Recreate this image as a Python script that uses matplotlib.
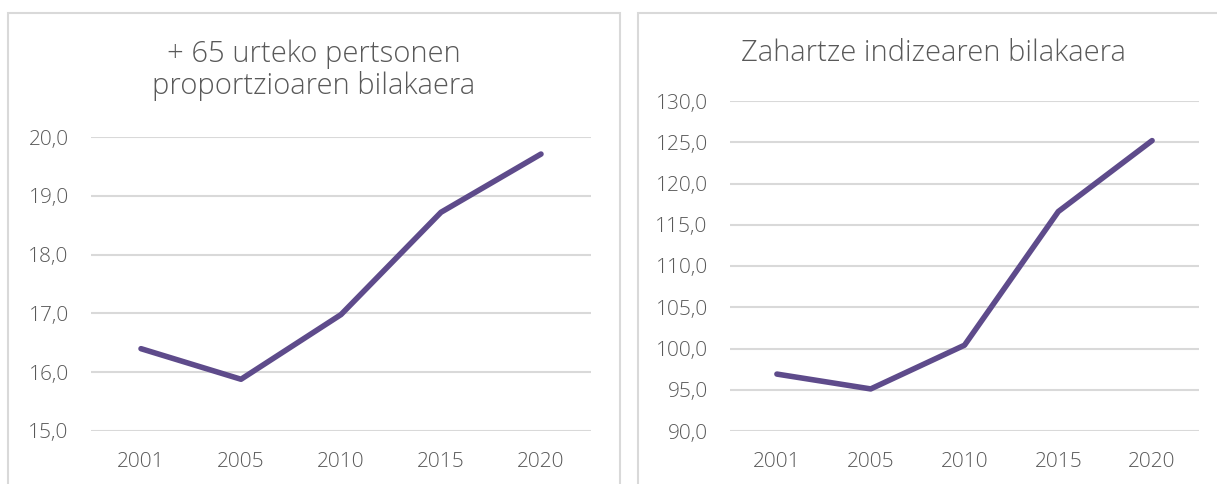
import matplotlib
matplotlib.use('Agg')
import matplotlib.pyplot as plt
from matplotlib.patches import Rectangle

## data
years = ['2001', '2005', '2010', '2015', '2020']
old_share = [16.40, 15.88, 16.98, 18.72, 19.71]     # + 65 urteko pertsonen proportzioa
ageing_index = [96.9, 95.1, 100.4, 116.6, 125.2]     # zahartze indizea

left_ticks = [15, 16, 17, 18, 19, 20]
right_ticks = [90, 95, 100, 105, 110, 115, 120, 125, 130]

title_left = ['+ 65 urteko pertsonen', 'proportzioaren bilakaera']
title_right = 'Zahartze indizearen bilakaera'

purple = '#5E4B8B'
grey_txt = '#595959'
grid_c = '#D9D9D9'

plt.rcParams['font.family'] = ['Open Sans', 'DejaVu Sans']

W, H = 1217, 484
fig = plt.figure(figsize=(W / 100, H / 100), dpi=100)

# panel frames (Excel chart borders)
for x0, x1 in [(8, 620), (638, 1235)]:
    fig.patches.append(Rectangle((x0 / W, -0.1), (x1 - x0) / W, (H - 13) / H + 0.1,
                                 transform=fig.transFigure, fill=False,
                                 edgecolor=grid_c, linewidth=1.5))


def style(ax, ticks, lo, hi):
    x = range(len(years))
    ax.set_xlim(-0.5, len(years) - 0.5)
    ax.set_ylim(lo, hi)
    ax.set_yticks(ticks)
    ax.set_yticklabels([f'{t:.1f}'.replace('.', ',') for t in ticks])
    ax.set_xticks(list(x))
    ax.set_xticklabels(years)
    for s in ax.spines.values():
        s.set_visible(False)
    ax.tick_params(length=0, labelsize=15, colors=grey_txt)
    ax.tick_params(axis='y', pad=16)
    ax.tick_params(axis='x', pad=15)
    for lab in ax.get_xticklabels() + ax.get_yticklabels():
        lab.set_fontweight('light')
    ax.grid(axis='y', color=grid_c, linewidth=1.5)
    ax.set_axisbelow(True)


ax1 = fig.add_axes([91 / W, (H - 431) / H, 500 / W, 294 / H])
style(ax1, left_ticks, 15, 20)
ax1.plot(range(len(years)), old_share, color=purple, linewidth=4, solid_capstyle='round')
for line, base in zip(title_left, [62, 94]):
    fig.text(314 / W, (H - base) / H, line, ha='center', va='baseline', fontsize=21,
             color=grey_txt, fontweight='light')

ax2 = fig.add_axes([730 / W, (H - 431) / H, 469 / W, 330 / H])
style(ax2, right_ticks, 90, 130)
ax2.plot(range(len(years)), ageing_index, color=purple, linewidth=4, solid_capstyle='round')
fig.text(933 / W, (H - 61) / H, title_right, ha='center', va='baseline', fontsize=21,
         color=grey_txt, fontweight='light')

fig.savefig('out.png', dpi=100)
